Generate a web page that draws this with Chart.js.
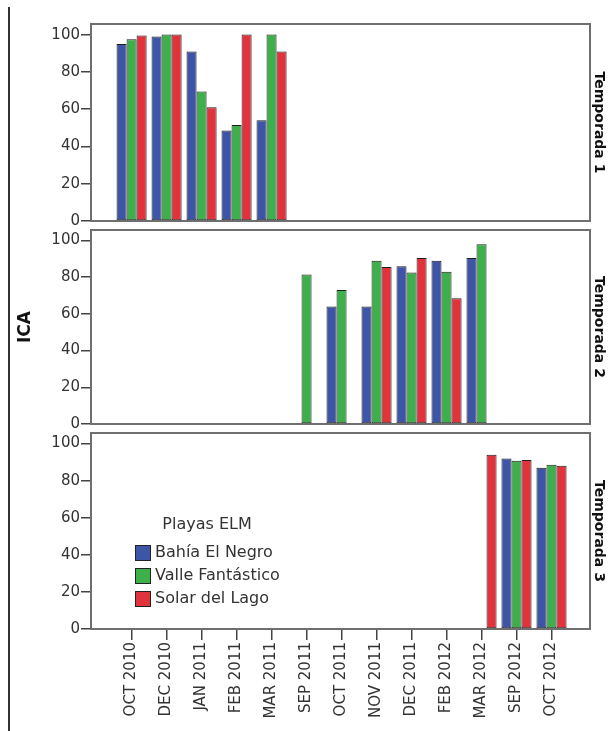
<!DOCTYPE html>
<html>
<head>
<meta charset="utf-8">
<script src="https://cdn.jsdelivr.net/npm/chart.js@4.4.1/dist/chart.umd.min.js"></script>
<style>
	body { margin: 0; background: #fff; width: 613px; height: 731px; overflow: hidden; position: relative; }
	.linea { position: absolute; left: 8px; top: 7px; bottom: 0; width: 2px; background: #333; }
	.panel { position: absolute; left: 0; width: 613px; }
</style>
</head>
<body>
<div class="panel" style="top:0;height:236px"><canvas id="temporada1"></canvas></div>
<div class="panel" style="top:200px;height:239px"><canvas id="temporada2"></canvas></div>
<div class="panel" style="top:400px;height:331px"><canvas id="temporada3"></canvas></div>
<div class="linea"></div>
<script>
Chart.defaults.font.family = '"DejaVu Sans", sans-serif';
Chart.defaults.color = '#333';

/* Datos */
const meses = ['OCT 2010', 'DEC 2010', 'JAN 2011', 'FEB 2011', 'MAR 2011', 'SEP 2011', 'OCT 2011',
	'NOV 2011', 'DEC 2011', 'FEB 2012', 'MAR 2012', 'SEP 2012', 'OCT 2012'];
const marcasY = [0, 20, 40, 60, 80, 100];
const playas = ['Bahía El Negro', 'Valle Fantástico', 'Solar del Lago'];
const colores = ['#3c55a7', '#3daf4b', '#e2333d'];
const tituloLeyenda = 'Playas ELM';

/* Temporada 1 */
const t1Bahia = [95, 99, 91, 48.5, 54, null, null, null, null, null, null, null, null];
const t1Valle = [97.5, 100, 69.5, 51.5, 100, null, null, null, null, null, null, null, null];
const t1Solar = [99.5, 100, 61, 100, 91, null, null, null, null, null, null, null, null];
/* Temporada 2 */
const t2Bahia = [null, null, null, null, null, null, 64, 64, 86, 89, 90.5, null, null];
const t2Valle = [null, null, null, null, null, 81.5, 73, 89, 82.5, 83, 98, null, null];
const t2Solar = [null, null, null, null, null, null, null, 85.5, 90.5, 68.5, null, null, null];
/* Temporada 3 */
const t3Bahia = [null, null, null, null, null, null, null, null, null, null, null, 92, 87];
const t3Valle = [null, null, null, null, null, null, null, null, null, null, null, 90.7, 88.6];
const t3Solar = [null, null, null, null, null, null, null, null, null, null, 94, 91.2, 88];

function puntos(serie) {
	return serie.map((v, i) => ({ x: i, y: v }));
}

/* recuadro gris de cada panel */
const caja = {
	id: 'caja',
	afterDatasetsDraw(chart) {
		const { ctx, chartArea } = chart;
		ctx.save();
		ctx.strokeStyle = '#6f6f6f';
		ctx.lineWidth = 2;
		ctx.strokeRect(chartArea.left, chartArea.top, chartArea.right - chartArea.left, chartArea.bottom - chartArea.top);
		ctx.restore();
	}
};

/* leyenda dentro del tercer panel */
const leyenda = {
	id: 'leyenda',
	afterDraw(chart) {
		const { ctx, chartArea } = chart;
		const x0 = chartArea.left + 44;
		const y0 = chartArea.top + 92;
		ctx.save();
		ctx.font = '16px "DejaVu Sans"';
		ctx.textBaseline = 'middle';
		ctx.textAlign = 'center';
		ctx.fillStyle = '#333';
		ctx.fillText(tituloLeyenda, x0 + 72, y0);
		ctx.textAlign = 'left';
		chart.data.datasets.forEach((ds, i) => {
			const y = y0 + 28 + i * 23;
			ctx.fillStyle = ds.backgroundColor;
			ctx.fillRect(x0, y - 8, 16, 16);
			ctx.strokeStyle = '#222';
			ctx.lineWidth = 1;
			ctx.strokeRect(x0 + 0.5, y - 7.5, 15, 15);
			ctx.fillStyle = '#333';
			ctx.fillText(ds.label, x0 + 20, y);
		});
		ctx.restore();
	}
};

function panel(id, temporada, series, padding, esUltimo, tituloY) {
	return new Chart(document.getElementById(id), {
		type: 'bar',
		data: {
			datasets: series.map((s, k) => ({
				label: playas[k],
				data: puntos(s),
				xAxisID: 'x',
				yAxisID: 'y',
				backgroundColor: colores[k],
				borderColor: '#1e1e1e',
				borderWidth: 1,
				borderSkipped: false,
				categoryPercentage: 0.86,
				barPercentage: 1
			}))
		},
		options: {
			responsive: true,
			maintainAspectRatio: false,
			animation: false,
			layout: { padding: padding },
			plugins: {
				legend: { display: false },
				tooltip: { enabled: false }
			},
			scales: {
				x: {
					type: 'linear',
					min: -1.16,
					max: 13.1,
					offset: false,
					display: esUltimo,
					afterBuildTicks: (s) => { s.ticks = meses.map((m, i) => ({ value: i })); },
					afterFit: (s) => { if (esUltimo) s.height = 92; },
					ticks: {
						autoSkip: false,
						minRotation: 90,
						maxRotation: 90,
						padding: 2,
						font: { size: 15 },
						callback: (v) => meses[v]
					},
					grid: { offset: false, drawOnChartArea: false, tickLength: 11, color: '#444', lineWidth: 1.5 },
					border: { display: false }
				},
				y: {
					min: 0,
					max: 105.7,
					afterBuildTicks: (s) => { s.ticks = marcasY.map(v => ({ value: v })); },
					afterFit: (s) => { s.width = 91; },
					ticks: { padding: 1, font: { size: 15 } },
					grid: { drawOnChartArea: false, tickLength: 10, color: '#444', lineWidth: 1.5 },
					border: { display: false },
					title: {
						display: !!tituloY,
						text: tituloY || '',
						color: '#111',
						font: { size: 17, weight: 'bold' },
						padding: { top: 15, bottom: 0 }
					}
				},
				y2: {
					position: 'right',
					ticks: { display: false },
					grid: { display: false },
					border: { display: false },
					afterFit: (s) => { s.width = 23; },
					title: {
						display: true,
						text: temporada,
						color: '#111',
						font: { size: 14, weight: 'bold' },
						padding: { top: 6, bottom: 0 }
					}
				}
			}
		},
		plugins: esUltimo ? [caja, leyenda] : [caja]
	});
}

panel('temporada1', 'Temporada 1', [t1Bahia, t1Valle, t1Solar], { top: 24, bottom: 15, left: 0, right: 0 }, false);
panel('temporada2', 'Temporada 2', [t2Bahia, t2Valle, t2Solar], { top: 30, bottom: 15, left: 0, right: 0 }, false, 'ICA');
panel('temporada3', 'Temporada 3', [t3Bahia, t3Valle, t3Solar], { top: 33, bottom: 10, left: 0, right: 0 }, true);
</script>
</body>
</html>
